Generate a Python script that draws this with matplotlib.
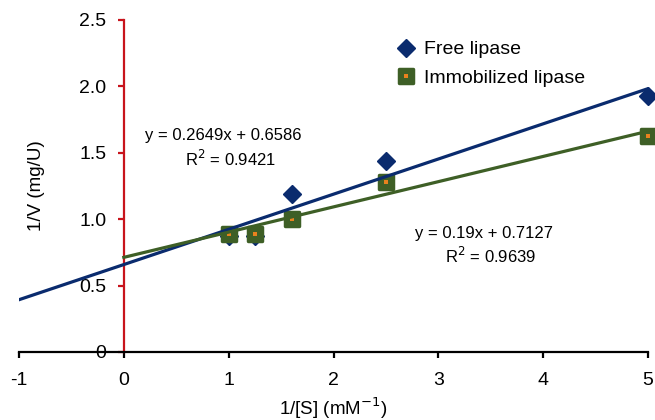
import matplotlib.pyplot as plt
import numpy as np
from matplotlib.markers import MarkerStyle
from matplotlib.lines import Line2D

# data
inv_s = [1, 1.25, 1.6, 2.5, 5]
free_lipase = [0.87, 0.87, 1.19, 1.44, 1.93]
immob_lipase = [0.89, 0.89, 1.00, 1.28, 1.63]

free_fit = (0.2649, 0.6586, 0.9421)   # slope, intercept, R^2
immob_fit = (0.19, 0.7127, 0.9639)

x_ticks = [-1, 0, 1, 2, 3, 4, 5]
y_ticks = [0, 0.5, 1.0, 1.5, 2.0, 2.5]
y_tick_labels = ['0', '0.5', '1.0', '1.5', '2.0', '2.5']

navy = '#0a2b6e'
green = '#3e5f26'
orange = '#e8821e'
red = '#c8141c'

plt.rcParams['font.family'] = ['Liberation Sans', 'DejaVu Sans']

fig = plt.figure(figsize=(6.55, 4.2), dpi=100)
ax = fig.add_axes([19/655, 1 - 352/420, 629/655, 332/420])
ax.set_xlim(-1, 5)
ax.set_ylim(0, 2.5)

# spines: red y axis through x=0, black x axis
ax.spines['left'].set_position(('data', 0))
ax.spines['left'].set_color(red)
ax.spines['left'].set_linewidth(1.6)
ax.spines['bottom'].set_linewidth(1.6)
ax.spines['top'].set_visible(False)
ax.spines['right'].set_visible(False)

ax.set_xticks(x_ticks)
ax.set_xticklabels([str(t) for t in x_ticks])
ax.set_yticks(y_ticks)
ax.set_yticklabels(y_tick_labels)
ax.tick_params(axis='y', color=red, width=1.6, length=4.5, pad=8, labelsize=14)
ax.tick_params(axis='x', color='black', width=1.6, length=4.5, pad=10, labelsize=14)

# points
sq = MarkerStyle('s', joinstyle='round')
ax.plot(inv_s, free_lipase, ls='none', marker='D', ms=9.5, color=navy,
        zorder=3, clip_on=False)
ax.plot(inv_s, immob_lipase, ls='none', marker=sq, ms=10.5, mew=2.5, color=green,
        zorder=3, clip_on=False)
ax.plot(inv_s, immob_lipase, ls='none', marker='s', ms=2.5, mew=0, color=orange,
        zorder=3, clip_on=False)

# trendlines
xf = np.array([-1, 5])
ax.plot(xf, free_fit[0] * xf + free_fit[1], color=navy, lw=2.3, zorder=4)
xi = np.array([0, 5])
ax.plot(xi, immob_fit[0] * xi + immob_fit[1], color=green, lw=2.3, zorder=4)

ax.text(0.2, 1.63, 'y = %.4fx + %.4f' % (free_fit[0], free_fit[1]),
        fontsize=12, va='center', ha='left')
ax.text(0.585, 1.45, 'R$^2$ = %.4f' % free_fit[2], fontsize=12, va='center', ha='left')
ax.text(2.78, 0.895, 'y = %.2fx + %.4f' % (immob_fit[0], immob_fit[1]),
        fontsize=12, va='center', ha='left')
ax.text(3.06, 0.72, 'R$^2$ = %.4f' % immob_fit[2], fontsize=12, va='center', ha='left')

ax.set_xlabel('1/[S] (mM$^{-1}$)', fontsize=13.5)
ax.xaxis.set_label_coords(0.5, -0.13)
ax.set_ylabel('1/V (mg/U)', fontsize=13.5)
ax.yaxis.set_label_coords(0.042, 0.5)

handles = [Line2D([], [], ls='none', marker='D', ms=9.5, color=navy),
           (Line2D([], [], ls='none', marker=sq, ms=10.5, mew=2.5, color=green),
            Line2D([], [], ls='none', marker='s', ms=2.5, mew=0, color=orange))]
ax.legend(handles, ['Free lipase', 'Immobilized lipase'], loc='upper left',
          bbox_to_anchor=(0.572, 0.99), frameon=False, fontsize=14,
          handlelength=1.0, handletextpad=0.4, labelspacing=0.55)

fig.savefig('out.png', dpi=100)
